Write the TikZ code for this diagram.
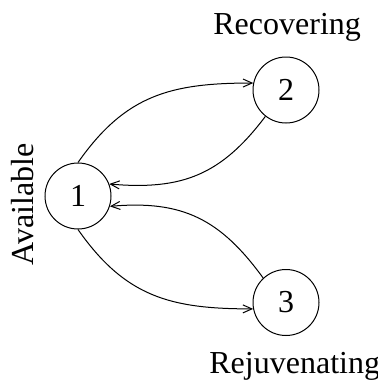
\documentclass[tikz,border=0pt]{standalone}
\usepackage{fontspec}
\setmainfont{Liberation Serif}
\usetikzlibrary{arrows.meta}
\begin{document}
\begin{tikzpicture}[x=0.5pt,y=-0.5pt,
  state/.style={circle,draw,line width=0.5pt,minimum size=33pt,inner sep=0pt,font=\fontsize{16}{19}\selectfont},
  lbl/.style={inner sep=0pt,font=\fontsize{16}{19}\selectfont},
  edge/.style={line width=0.5pt,-{Straight Barb[length=4.5pt,width=4pt]}}]
\useasboundingbox (0,0) rectangle (377,380);
\clip (0,0) rectangle (377,380);
\node[state] (n1) at (78,196) {1};
\node[state] (n2) at (286,90) {2};
\node[state] (n3) at (286,302.5) {3};
\node[lbl,anchor=base west] (t2) at (213,34) {Recovering};
\node[lbl,anchor=base west] (t3) at (209,373) {Rejuvenating};
\node[lbl,anchor=base,rotate=90] (t1) at (33,204.5) {Available};
\draw[edge] (n1.90) to[out=55,in=180,looseness=1.1] (n2.168);
\draw[edge] (n2.232) to[out=233,in=-5,looseness=1.1] (n1.21);
\draw[edge] (n3.133) to[out=126,in=5,looseness=1.1] (n1.-18);
\draw[edge] (n1.270) to[out=-55,in=180,looseness=1.1] (n3.191);
\end{tikzpicture}
\end{document}
